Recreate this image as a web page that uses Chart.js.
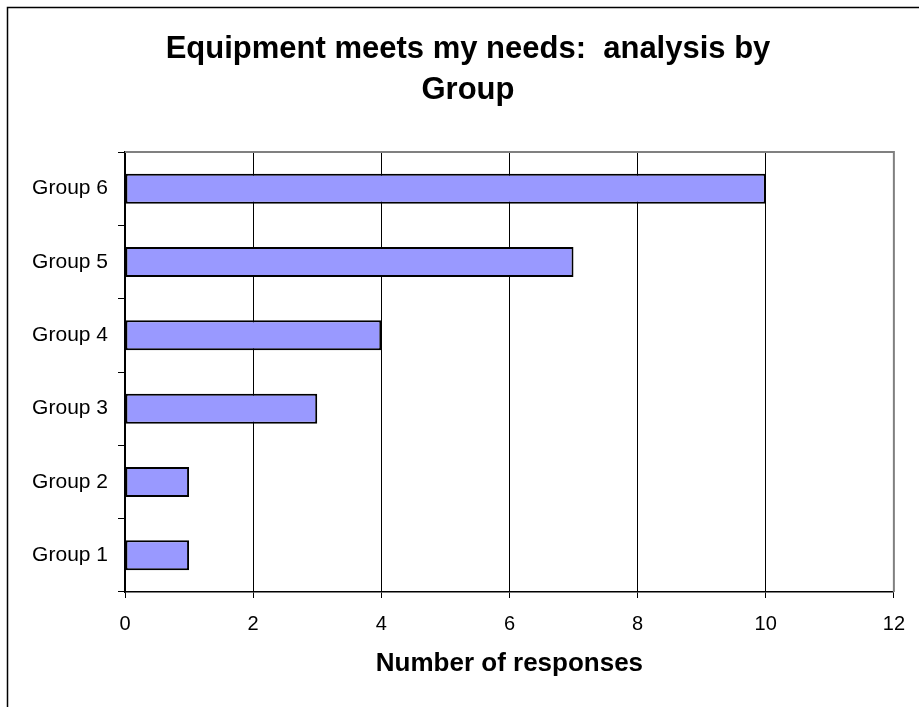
<!DOCTYPE html>
<html>
<head>
<meta charset="utf-8">
<script src="https://cdn.jsdelivr.net/npm/chart.js@4.4.1/dist/chart.umd.min.js"></script>
<style>
body{margin:0;background:#fff}
#wrap{width:919px;height:707px;position:relative}
</style>
</head>
<body>
<div id="wrap"><canvas id="barChart"></canvas></div>
<script>
const groups = ['Group 1','Group 2','Group 3','Group 4','Group 5','Group 6']
const responses = [1,1,3,4,7,10]
const xTicks = [0,2,4,6,8,10,12]

const chartTitle = ['Equipment meets my needs:  analysis by','Group']
const xTitle = 'Number of responses'

const fontFam = '"Liberation Sans", Arial, sans-serif'

// outer box, title text, grey frame on top/right of the plot area
const frame = {
id:'frame',
beforeDraw(chart){
const c = chart.ctx
c.save()
c.fillStyle = '#fff'
c.fillRect(0,0,chart.width,chart.height)
c.strokeStyle = '#000'
c.lineWidth = 1.5
c.strokeRect(7.5,7.5,chart.width+20,chart.height+20)
c.fillStyle = '#000'
c.font = 'bold 31px ' + fontFam
c.textAlign = 'center'
c.textBaseline = 'alphabetic'
chartTitle.forEach((t,i)=>c.fillText(t,468,58+i*41))
c.restore()
},
afterDatasetsDraw(chart){
const a = chart.chartArea
const c = chart.ctx
c.save()
c.strokeStyle = '#808080'
c.lineWidth = 2
c.beginPath()
c.moveTo(a.left,a.top)
c.lineTo(a.right,a.top)
c.lineTo(a.right,a.bottom)
c.stroke()
c.restore()
}
}

const ctx = document.getElementById('barChart')

new Chart(ctx,{
type:'bar',
data:{
labels:groups,
datasets:[{
data:responses,
backgroundColor:'#9999ff',
borderColor:'#000',
borderWidth:2,
borderSkipped:false,
categoryPercentage:1,
barPercentage:0.41
}]
},
plugins:[frame],
options:{
indexAxis:'y',
responsive:true,
maintainAspectRatio:false,
animation:false,
layout:{padding:{left:0,right:25,top:152,bottom:0}},
plugins:{
legend:{display:false},
tooltip:{enabled:false},
title:{display:false}
},
scales:{
x:{
min:0,
max:12,
afterBuildTicks(s){ s.ticks = xTicks.map(v=>({value:v})) },
afterFit(s){ s.height = 115 },
ticks:{
color:'#000',
padding:14,
font:{family:fontFam,size:20}
},
grid:{
color:'#000',
lineWidth:1,
tickLength:6,
tickColor:'#000'
},
border:{color:'#000',width:1.5},
title:{
display:true,
text:xTitle,
color:'#000',
font:{family:fontFam,size:26,weight:'bold'},
padding:{top:0,bottom:28}
}
},
y:{
reverse:true,
afterFit(s){ s.width = 125 },
ticks:{
color:'#000',
padding:10,
font:{family:fontFam,size:21}
},
grid:{
offset:true,
drawOnChartArea:false,
tickLength:7,
tickColor:'#000'
},
border:{color:'#000',width:1.5}
}
}
}
})
</script>
</body>
</html>
